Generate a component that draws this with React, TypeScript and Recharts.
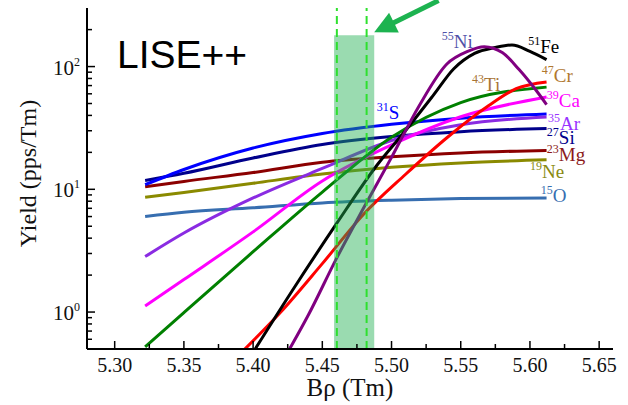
import { LineChart, Line, XAxis, YAxis, ReferenceArea, ReferenceLine, ReferenceDot } from 'recharts';

// Bρ (Tm) sample points shared by the smooth, flat-ish yields
const bRho = [5.322, 5.35, 5.40, 5.45, 5.50, 5.55, 5.612];
const yieldO15 = [6.0, 6.5, 7.06, 7.75, 8.15, 8.4, 8.5];
const yieldNe19 = [8.6, 9.4, 11.2, 13.3, 15.1, 16.4, 17.4];
const yieldMg23 = [10.5, 11.6, 13.7, 16.6, 18.4, 19.8, 20.7];
const yieldSi27 = [11.8, 13.5, 18.0, 23.2, 26.9, 29.5, 31.3];
const yieldS31 = [10.9, 14.5, 21.7, 28.5, 33.9, 38.0, 41.1];
const yieldAr35 = [2.83, 4.4, 8.5, 14.8, 25.0, 33.6, 38.8];
const yieldCa39 = [1.12, 1.84, 4.5, 11.7, 23.0, 39.0, 56.6];
const yieldTi43 = [0.52, 0.99, 3.1, 9.5, 26.6, 50.8, 68.0];

const bRhoCr = [5.39, 5.42, 5.45, 5.48, 5.51, 5.54, 5.57, 5.59, 5.612];
const yieldCr47 = [0.45, 1.0, 2.48, 6.3, 13.2, 26.3, 47.9, 66, 75];

const bRhoFe = [5.40, 5.43, 5.46, 5.49, 5.51, 5.53, 5.545, 5.56, 5.575, 5.587, 5.60, 5.612];
const yieldFe51 = [0.47, 1.6, 5.2, 16, 30, 58, 96, 128, 143, 150, 133, 114];

const bRhoNi = [5.425, 5.44, 5.46, 5.48, 5.50, 5.52, 5.54, 5.555, 5.567, 5.58, 5.592, 5.604, 5.612];
const yieldNi55 = [0.47, 0.95, 2.7, 7.1, 18.2, 48, 105, 133, 145, 130, 95, 65, 49];

const xMajorTicks = [5.30, 5.35, 5.40, 5.45, 5.50, 5.55, 5.60, 5.65];
const xMinorTicks = [5.325, 5.375, 5.425, 5.475, 5.525, 5.575, 5.625];
const yMajorTicks = [1, 10, 100];
const yMinorTicks = [0.6, 0.7, 0.8, 0.9, 2, 3, 4, 5, 6, 7, 8, 9, 20, 30, 40, 50, 60, 70, 80, 90, 200];

const xTicks = [...xMajorTicks, ...xMinorTicks].sort((a, b) => a - b);
const yTicks = [...yMajorTicks, ...yMinorTicks].sort((a, b) => a - b);

const pts = (xs: number[], ys: number[]) => xs.map((x, i) => ({ x, y: ys[i] }));

const series = [
  { key: 'O15', data: pts(bRho, yieldO15), color: '#376eb0' },
  { key: 'Ne19', data: pts(bRho, yieldNe19), color: '#8a8a00' },
  { key: 'Mg23', data: pts(bRho, yieldMg23), color: '#8b0000' },
  { key: 'Si27', data: pts(bRho, yieldSi27), color: '#00008b' },
  { key: 'S31', data: pts(bRho, yieldS31), color: '#0000ff' },
  { key: 'Ar35', data: pts(bRho, yieldAr35), color: '#8a2be2' },
  { key: 'Ca39', data: pts(bRho, yieldCa39), color: '#ff00ff' },
  { key: 'Ti43', data: pts(bRho, yieldTi43), color: '#008000' },
  { key: 'Cr47', data: pts(bRhoCr, yieldCr47), color: '#ff0000' },
  { key: 'Fe51', data: pts(bRhoFe, yieldFe51), color: '#000000' },
  { key: 'Ni55', data: pts(bRhoNi, yieldNi55), color: '#800080' },
];

// isotope labels, anchored in data coordinates
const labels = [
  { mass: '55', sym: 'Ni', x: 5.5363, y: 141, color: '#5050a8' },
  { mass: '51', sym: 'Fe', x: 5.5987, y: 128, color: '#000000' },
  { mass: '47', sym: 'Cr', x: 5.6085, y: 74.5, color: '#b07830' },
  { mass: '43', sym: 'Ti', x: 5.5582, y: 63.2, color: '#a87434' },
  { mass: '39', sym: 'Ca', x: 5.6122, y: 46.6, color: '#ff00ff' },
  { mass: '35', sym: 'Ar', x: 5.6131, y: 30.3, color: '#9933ff' },
  { mass: '27', sym: 'Si', x: 5.6122, y: 23.4, color: '#00008b' },
  { mass: '23', sym: 'Mg', x: 5.6122, y: 17.0, color: '#8b1a1a' },
  { mass: '19', sym: 'Ne', x: 5.6001, y: 12.3, color: '#8a8a10' },
  { mass: '15', sym: 'O', x: 5.6078, y: 7.83, color: '#376eb0' },
  { mass: '31', sym: 'S', x: 5.4893, y: 37.2, color: '#0000ff' },
];

const isMajor = (v: number, majors: number[]) => majors.some((m) => Math.abs(m - v) < 1e-9);

const BottomTick = ({ x, y, payload }: any) => {
  const major = isMajor(payload.value, xMajorTicks);
  return (
    <g>
      <line x1={x} y1={y} x2={x} y2={y - (major ? 8 : 5)} stroke="#000" strokeWidth={1.5} />
      {major && (
        <text x={x} y={y + 23} textAnchor="middle" style={{ fontFamily: 'Liberation Serif', fontSize: 20 }} fill="#111">
          {payload.value.toFixed(2)}
        </text>
      )}
    </g>
  );
};

const TopTick = ({ x, y, payload }: any) => {
  const major = isMajor(payload.value, xMajorTicks);
  return <line x1={x} y1={y} x2={x} y2={y + (major ? 8 : 5)} stroke="#000" strokeWidth={1.5} />;
};

const LeftTick = ({ x, y, payload }: any) => {
  const major = isMajor(payload.value, yMajorTicks);
  return (
    <g>
      <line x1={x} y1={y} x2={x + (major ? 8 : 5)} y2={y} stroke="#000" strokeWidth={1.5} />
      {major && (
        <text x={x - 7} y={y + 8} textAnchor="end" style={{ fontFamily: 'Liberation Serif', fontSize: 21 }} fill="#111">
          10
          <tspan dy={-9} style={{ fontSize: 12 }}>{Math.round(Math.log10(payload.value))}</tspan>
        </text>
      )}
    </g>
  );
};

const RightTick = ({ x, y, payload }: any) => {
  const major = isMajor(payload.value, yMajorTicks);
  return <line x1={x} y1={y} x2={x - (major ? 8 : 5)} y2={y} stroke="#000" strokeWidth={1.5} />;
};

const YLabel = ({ viewBox }: any) => {
  const cx = 36;
  const cy = viewBox.y + viewBox.height / 2 - 5;
  return (
    <text x={cx} y={cy} transform={`rotate(-90 ${cx} ${cy})`} textAnchor="middle" style={{ fontFamily: 'Liberation Serif', fontSize: 24 }} fill="#111">
      Yield (pps/Tm)
    </text>
  );
};

const XLabel = ({ viewBox }: any) => (
  <text x={viewBox.x + viewBox.width / 2} y={396} textAnchor="middle" style={{ fontFamily: 'Liberation Serif', fontSize: 25 }} fill="#111">
    Bρ (Tm)
  </text>
);

const Arrow = ({ x1, y1, x2, y2 }: any) => {
  const dx = x2 - x1;
  const dy = y2 - y1;
  const len = Math.sqrt(dx * dx + dy * dy);
  const ux = dx / len;
  const uy = dy / len;
  const head = 22;
  const half = 11;
  const bx = x2 - ux * head;
  const by = y2 - uy * head;
  return (
    <g>
      <line x1={x1} y1={y1} x2={bx + ux * 2} y2={by + uy * 2} stroke="#1db350" strokeWidth={5} />
      <polygon
        points={`${x2},${y2} ${bx - uy * half},${by + ux * half} ${bx + uy * half},${by - ux * half}`}
        fill="#1db350"
      />
    </g>
  );
};

const App = () => {
  return (
    <div style={{ position: 'absolute', left: 0, top: 0, width: 628, height: 405, background: '#fff' }}>
      <LineChart width={628} height={405} margin={{ top: 8, right: 15, bottom: 0, left: 0 }}>
        <XAxis
          type="number"
          dataKey="x"
          domain={[5.28, 5.66]}
          allowDataOverflow
          ticks={xTicks}
          interval={0}
          height={56}
          tickSize={0}
          tickMargin={0}
          tickLine={false}
          tick={BottomTick}
          axisLine={{ stroke: '#000', strokeWidth: 2 }}
          label={<XLabel />}
        />
        <XAxis
          xAxisId="top"
          orientation="top"
          type="number"
          dataKey="x"
          domain={[5.28, 5.66]}
          allowDataOverflow
          ticks={xTicks}
          interval={0}
          height={0}
          tickSize={0}
          tickMargin={0}
          tickLine={false}
          tick={TopTick}
          axisLine={{ stroke: '#000', strokeWidth: 2 }}
        />
        <YAxis
          type="number"
          scale="log"
          domain={[0.5, 300]}
          allowDataOverflow
          ticks={yTicks}
          interval={0}
          width={87}
          tickSize={0}
          tickMargin={0}
          tickLine={false}
          tick={LeftTick}
          axisLine={{ stroke: '#000', strokeWidth: 2 }}
          label={<YLabel />}
        />
        <YAxis
          yAxisId="right"
          orientation="right"
          type="number"
          scale="log"
          domain={[0.5, 300]}
          allowDataOverflow
          ticks={yTicks}
          interval={0}
          width={0}
          tickSize={0}
          tickMargin={0}
          tickLine={false}
          tick={RightTick}
          axisLine={{ stroke: '#000', strokeWidth: 2 }}
        />
        {series.map((s) => (
          <Line
            key={s.key}
            data={s.data}
            dataKey="y"
            type="monotone"
            stroke={s.color}
            strokeWidth={3}
            dot={false}
            activeDot={false}
            isAnimationActive={false}
          />
        ))}
        <ReferenceArea
          x1={5.4585}
          x2={5.4875}
          y1={0.5}
          y2={180}
          fill="#1fb050"
          fillOpacity={0.45}
          stroke="none"
          zIndex={450}
        />
        <ReferenceLine x={5.4605} stroke="#2ee02e" strokeWidth={2} strokeDasharray="8 5" zIndex={460} />
        <ReferenceLine x={5.482} stroke="#2ee02e" strokeWidth={2} strokeDasharray="8 5" zIndex={460} />
        <ReferenceLine
          segment={[{ x: 5.534, y: 345 }, { x: 5.4875, y: 190 }]}
          ifOverflow="visible"
          shape={Arrow}
          zIndex={470}
        />
        {labels.map((l) => (
          <ReferenceDot
            key={l.sym}
            x={l.x}
            y={l.y}
            r={0}
            ifOverflow="visible"
            shape={(p: any) => (
              <text x={p.cx} y={p.cy} style={{ fontFamily: 'Liberation Serif', fontSize: 19 }} fill={l.color}>
                <tspan style={{ fontSize: 12 }} dy={-8}>{l.mass}</tspan>
                <tspan dy={8}>{l.sym}</tspan>
              </text>
            )}
          />
        ))}
        <ReferenceDot
          x={5.3017}
          y={97}
          r={0}
          ifOverflow="visible"
          shape={(p: any) => (
            <text x={p.cx} y={p.cy} style={{ fontFamily: 'Liberation Sans', fontSize: 39 }} fill="#000">
              LISE++
            </text>
          )}
        />
      </LineChart>
    </div>
  );
};

export default App;
